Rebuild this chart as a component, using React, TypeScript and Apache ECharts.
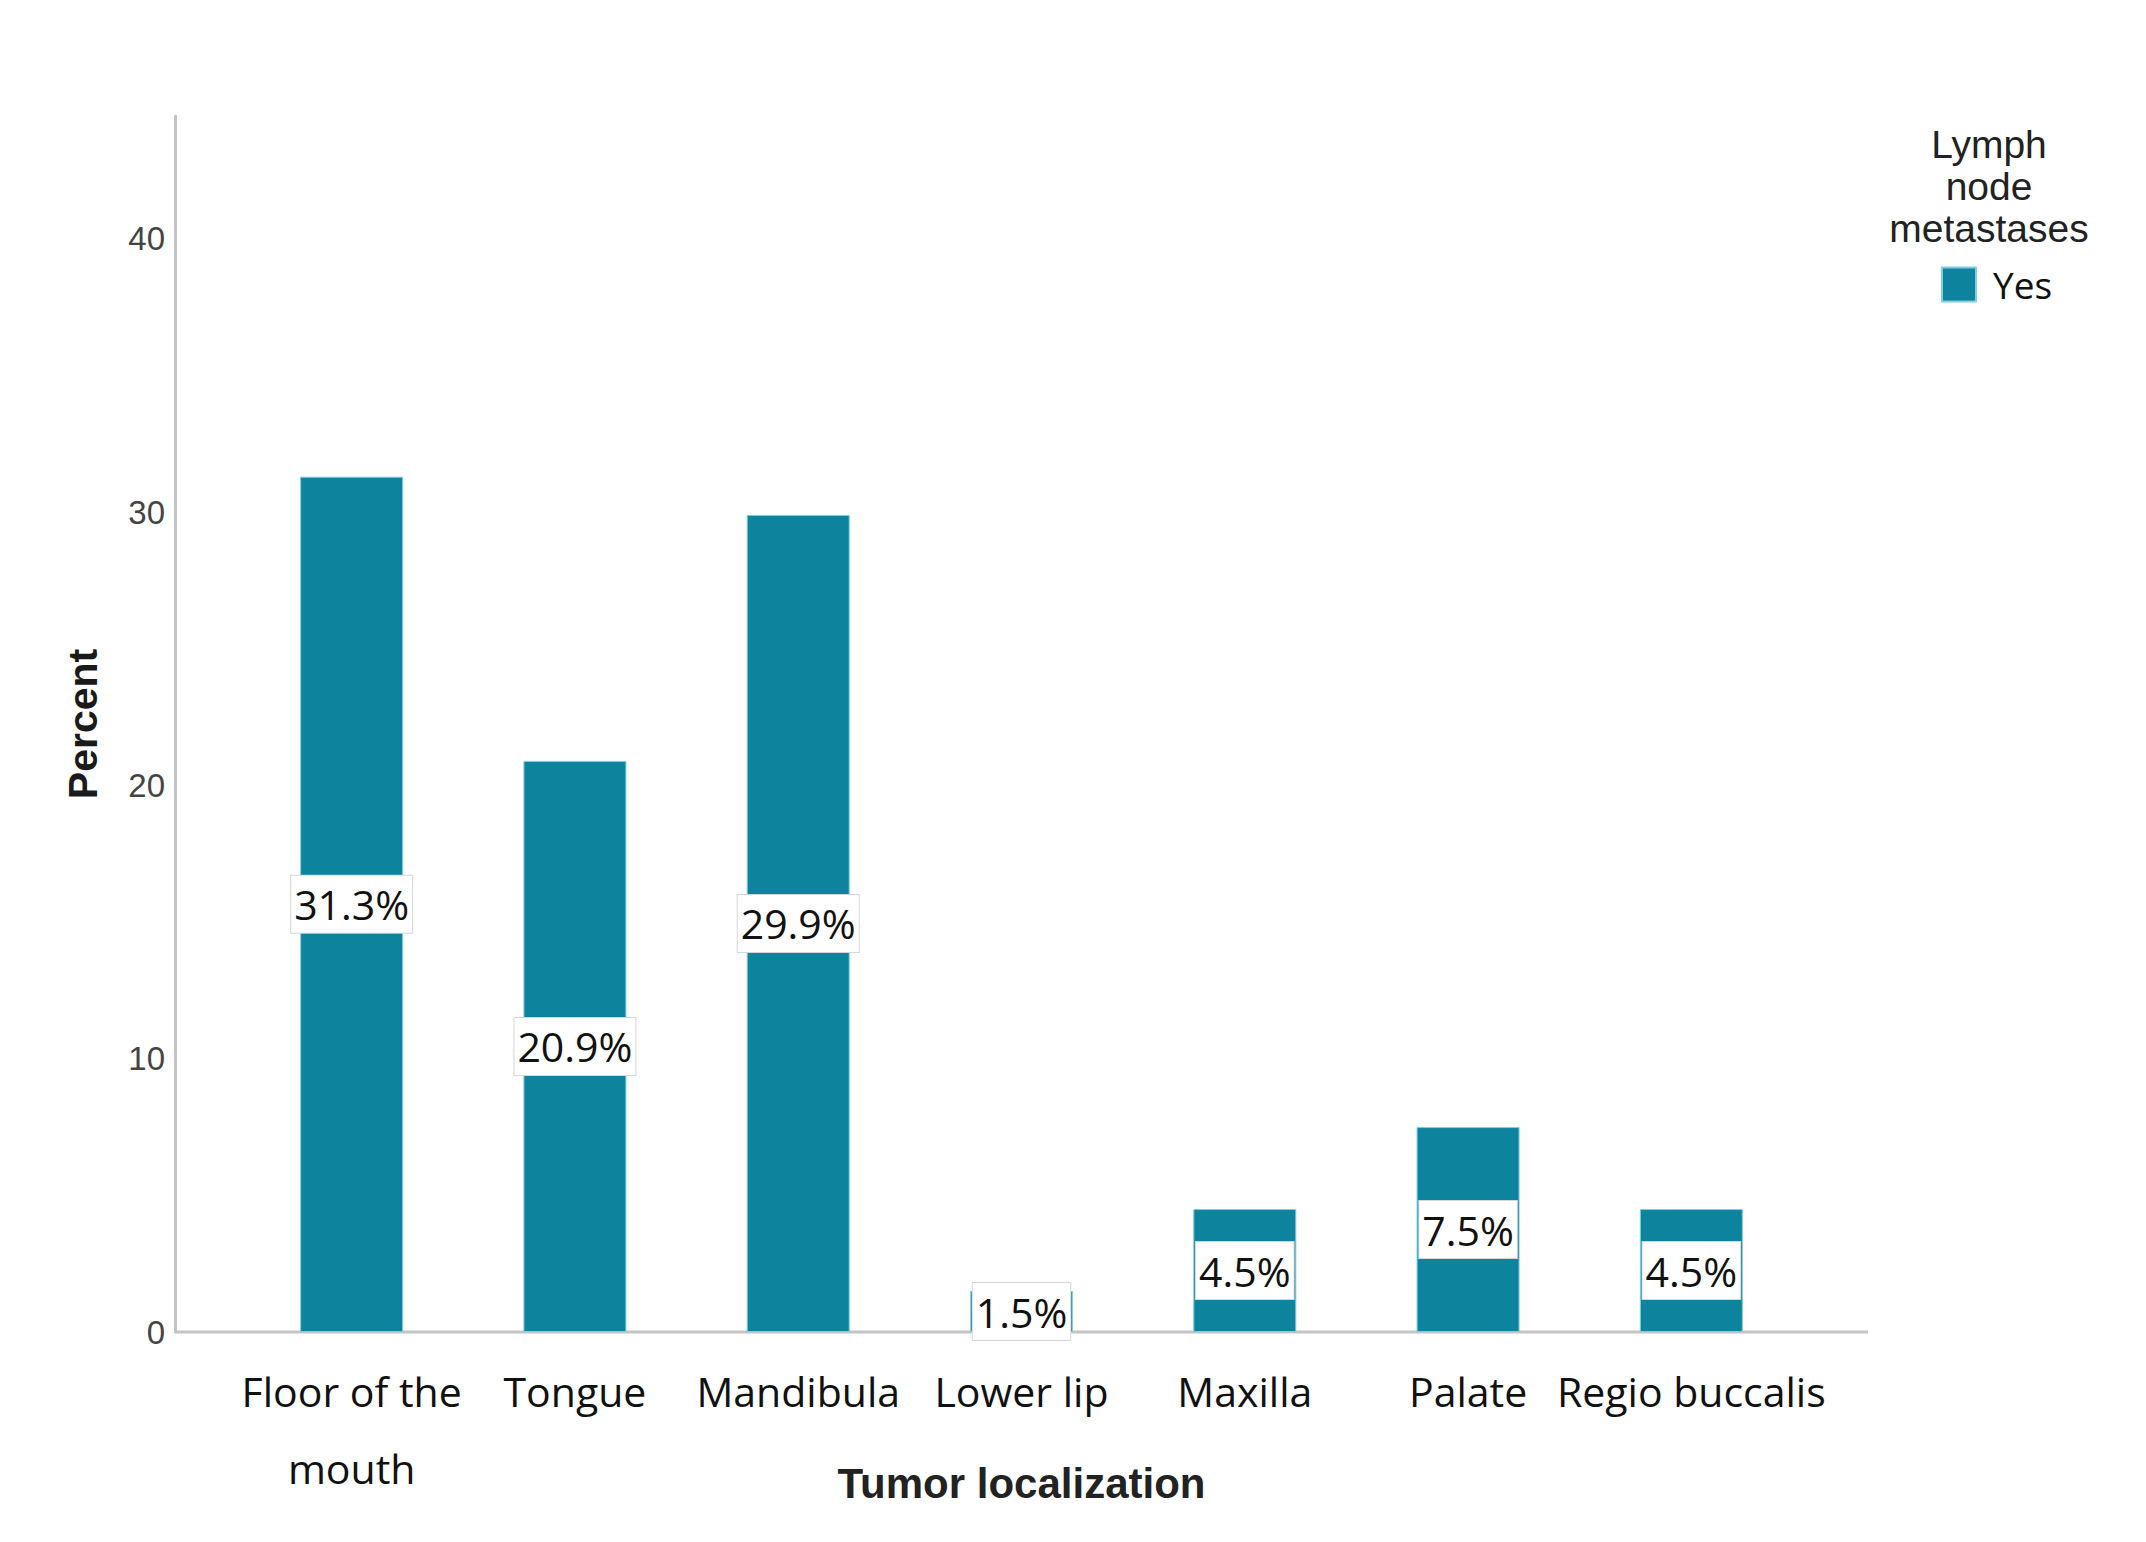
import React, { useEffect, useRef } from "react";
import * as echarts from "echarts";

const categories = [
  "Floor of the\nmouth",
  "Tongue",
  "Mandibula",
  "Lower lip",
  "Maxilla",
  "Palate",
  "Regio buccalis",
];
const percentValues = [31.3, 20.9, 29.9, 1.5, 4.5, 7.5, 4.5];
const seriesName = "Yes";
const legendTitle = "Lymph\nnode\nmetastases";
const xAxisTitle = "Tumor localization";
const yAxisTitle = "Percent";
const yMin = 0;
const yMax = 44.5;
const yInterval = 10;

const W = 2146;
const H = 1542;
const GRID_LEFT = 240;
const GRID_RIGHT = 343;
const GRID_TOP = 116;
const GRID_BOTTOM = 210;
const AXIS_LEFT_X = 175;
const AXIS_RIGHT_X = 1868;
const BAR_COLOR = "#0e839e";
const AXIS_COLOR = "#c4c4c4";

export default function App() {
  const ref = useRef<HTMLDivElement>(null);

  useEffect(() => {
    document.body.style.margin = "0";
    const chart = echarts.init(ref.current!, undefined, { renderer: "svg" });
    const baseY = H - GRID_BOTTOM;
    chart.setOption({
      animation: false,
      backgroundColor: "#ffffff",
      grid: {
        left: GRID_LEFT,
        right: GRID_RIGHT,
        top: GRID_TOP,
        bottom: GRID_BOTTOM,
        containLabel: false,
        outerBoundsMode: "none",
      },
      legend: {
        data: [seriesName],
        left: 1936,
        top: 261,
        icon: "rect",
        itemWidth: 34,
        itemHeight: 34,
        textStyle: {
          fontFamily: "'Open Sans', sans-serif",
          fontSize: 37,
          color: "#111",
          padding: [0, 0, 0, 12],
        },
      },
      graphic: [
        {
          type: "line",
          z: 1,
          shape: { x1: AXIS_LEFT_X, y1: baseY, x2: AXIS_RIGHT_X, y2: baseY },
          style: { stroke: AXIS_COLOR, lineWidth: 3 },
        },
        {
          type: "text",
          x: 1989,
          y: 186,
          style: {
            text: legendTitle,
            align: "center",
            verticalAlign: "middle",
            fontFamily: "'Liberation Sans', Arial, sans-serif",
            fontSize: 39,
            lineHeight: 42,
            fill: "#222",
          },
        },
      ],
      xAxis: {
        type: "category",
        data: categories,
        axisLine: { show: false },
        axisTick: { show: false },
        axisLabel: {
          margin: 20,
          fontFamily: "'Open Sans', sans-serif",
          fontSize: 41,
          lineHeight: 77,
          color: "#111",
          interval: 0,
        },
        name: xAxisTitle,
        nameLocation: "middle",
        nameGap: 130,
        nameMoveOverlap: false,
        nameTextStyle: {
          fontFamily: "'Liberation Sans', Arial, sans-serif",
          fontWeight: "bold",
          fontSize: 42,
          color: "#222",
        },
      },
      yAxis: {
        type: "value",
        min: yMin,
        max: yMax,
        interval: yInterval,
        offset: GRID_LEFT - AXIS_LEFT_X,
        axisLine: { show: true, lineStyle: { color: AXIS_COLOR, width: 3 } },
        axisTick: { show: false },
        splitLine: { show: false },
        axisLabel: {
          margin: 10,
          fontFamily: "'Liberation Sans', Arial, sans-serif",
          fontSize: 33,
          color: "#444",
          formatter: (v: number) => (v % yInterval === 0 ? String(v) : ""),
        },
        name: yAxisTitle,
        nameLocation: "middle",
        nameGap: 72,
        nameMoveOverlap: false,
        nameTextStyle: {
          fontFamily: "'Liberation Sans', Arial, sans-serif",
          fontWeight: "bold",
          fontSize: 41,
          color: "#1a1a1a",
        },
      },
      series: [
        {
          name: seriesName,
          type: "bar",
          data: percentValues,
          barWidth: 103,
          itemStyle: {
            color: BAR_COLOR,
            borderColor: "#7fcfe0",
            borderWidth: 1,
          },
          label: {
            show: true,
            position: "inside",
            formatter: (p: any) => `${Number(p.value).toFixed(1)}%`,
            fontFamily: "'Open Sans', sans-serif",
            fontSize: 41,
            color: "#111",
            backgroundColor: "#ffffff",
            borderColor: "#d6d6d6",
            borderWidth: 1,
            padding: [9, 3, 8, 3],
            lineHeight: 40,
          },
        },
      ],
    });
    return () => chart.dispose();
  }, []);

  return <div ref={ref} style={{ width: W, height: H }} />;
}
